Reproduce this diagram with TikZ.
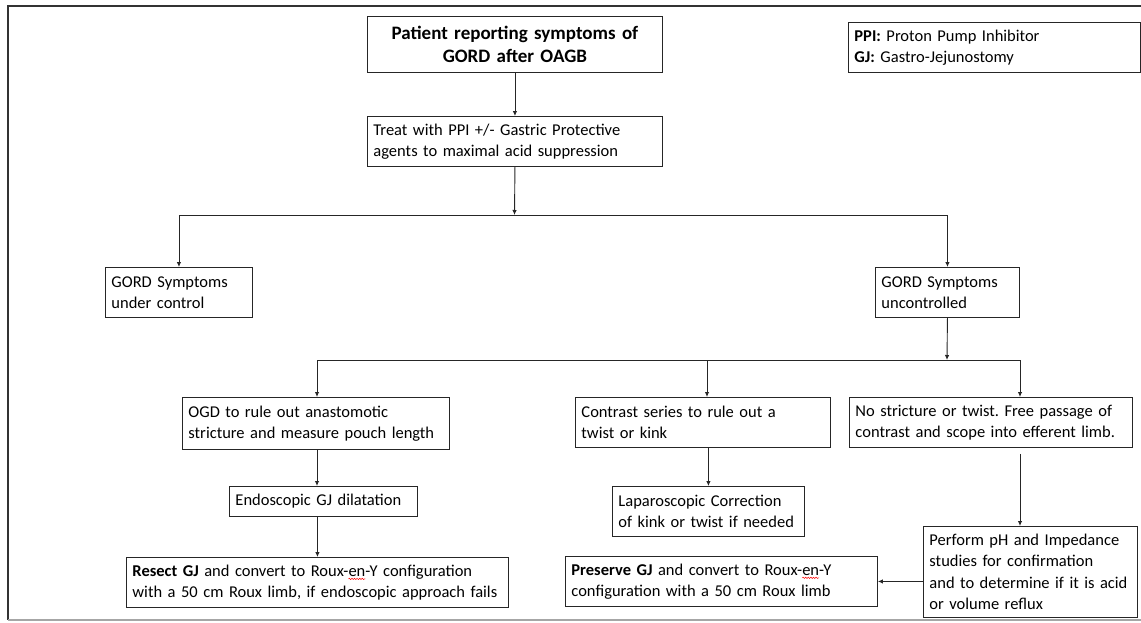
\documentclass[tikz,border=0pt]{standalone}
\usepackage{fontspec}
\setmainfont{Carlito}
\usetikzlibrary{arrows.meta,decorations.pathmorphing}
\newsavebox\wavebox
\newlength\wavelen
\newcommand\redwave[1]{\sbox\wavebox{#1}\setlength\wavelen{\wd\wavebox}\makebox[0pt][l]{\tikz[overlay,baseline=0pt]\draw[red,line width=0.5pt,decorate,decoration={snake,amplitude=0.7pt,segment length=2.6pt}] (0pt,-2.8pt) -- (\wavelen,-2.8pt);}\usebox\wavebox}
\begin{document}
\frenchspacing
\begin{tikzpicture}[x=1pt,y=-1pt,
  bx/.style={draw=black!85, line width=0.9pt, inner xsep=6pt, inner ysep=2pt, align=left,
    font=\fontsize{16.5}{21.5}\selectfont, anchor=north west},
  arr/.style={-{Latex[length=5pt,width=4.5pt]}, line width=0.9pt, draw=black!85},
  ln/.style={line width=0.9pt, draw=black!85}]
\useasboundingbox (0,0) rectangle (1141,622);
% frame
\draw[line width=1.3pt, black!80] (1150,6) -- (8,6) -- (8,620);
\draw[line width=1.3pt, black!35] (8,620) -- (1150,620);
% nodes
\node[bx, minimum width=295pt, minimum height=56pt, text width=283pt, align=center, font=\fontsize{19}{23}\selectfont\bfseries] (n1) at (367,16) {Patient reporting symptoms of\\GORD after OAGB};
\node[bx, minimum width=295pt, minimum height=50pt, text width=283pt] (n2) at (367,116) {Treat with PPI +/- Gastric Protective\\agents to maximal acid suppression};
\node[bx, minimum width=292pt, minimum height=50pt, text width=280pt] (lg) at (848,22) {\textbf{PPI:} Proton Pump Inhibitor\\\textbf{GJ:} Gastro-Jejunostomy};
\node[bx, minimum width=147pt, minimum height=50pt, text width=135pt] (n3) at (105,267) {GORD Symptoms\\under control};
\node[bx, minimum width=144pt, minimum height=50pt, text width=132pt] (n4) at (875,267) {GORD Symptoms\\uncontrolled};
\node[bx, minimum width=267pt, minimum height=52pt, text width=255pt] (n5) at (182,397) {OGD to rule out anastomotic\\stricture and measure pouch length};
\node[bx, minimum width=255pt, minimum height=50pt, text width=243pt] (n6) at (575,397) {Contrast series to rule out a\\twist or kink};
\node[bx, minimum width=283pt, minimum height=50pt, text width=271pt] (n7) at (849,397) {No stricture or twist. Free passage of\\contrast and scope into efferent limb.};
\node[bx, minimum width=188pt, minimum height=30pt, text width=176pt] (n8) at (229,486) {Endoscopic GJ dilatation};
\node[bx, minimum width=192pt, minimum height=50pt, text width=180pt] (n9) at (612,486) {Laparoscopic Correction\\of kink or twist if needed};
\node[bx, minimum width=382pt, minimum height=50pt, text width=370pt] (n10) at (126,557) {\textbf{Resect GJ} and convert to Roux-\redwave{en}-Y configuration\\with a 50 cm Roux limb, if endoscopic approach fails};
\node[bx, minimum width=214pt, minimum height=91pt, text width=202pt] (n11) at (923,526) {Perform pH and Impedance\\studies for confirmation\\and to determine if it is acid\\or volume reflux};
\node[bx, minimum width=312pt, minimum height=50pt, text width=300pt] (n12) at (565,556) {\textbf{Preserve GJ} and convert to Roux-\redwave{en}-Y\\configuration with a 50 cm Roux limb};
% junctions
\coordinate (j1) at (514.5,215);
\coordinate (j1l) at (n3.north |- j1);
\coordinate (j1r) at (n4.north |- j1);
\coordinate (j2) at (947,360);
\coordinate (j2l) at (317,360);
\coordinate (j2m) at (707,360);
\coordinate (j2r) at (1020,360);
% connectors
\draw[arr] (n1.south) -- (n2.north);
\draw[arr] (n2.south) -- (j1);
\draw[ln] (j1l) -- (j1r);
\draw[arr] (j1l) -- (n3.north);
\draw[arr] (j1r) -- (n4.north);
\draw[arr] (n4.south) -- (j2);
\draw[ln] (j2l) -- (j2r);
\draw[arr] (j2l) -- (j2l |- n5.north);
\draw[arr] (j2m) -- (j2m |- n6.north);
\draw[arr] (j2r) -- (j2r |- n7.north);
\draw[arr] (j2l |- n5.south) -- (j2l |- n8.north);
\draw[arr] (n10.north |- n8.south) -- (n10.north);
\draw[arr] (n9.north |- n6.south) -- (n9.north);
\draw[arr, shorten <=6pt] (j2r |- n7.south) -- (j2r |- n11.north);
\draw[arr] (n11.west |- n12.east) -- (n12.east);
\end{tikzpicture}
\end{document}
